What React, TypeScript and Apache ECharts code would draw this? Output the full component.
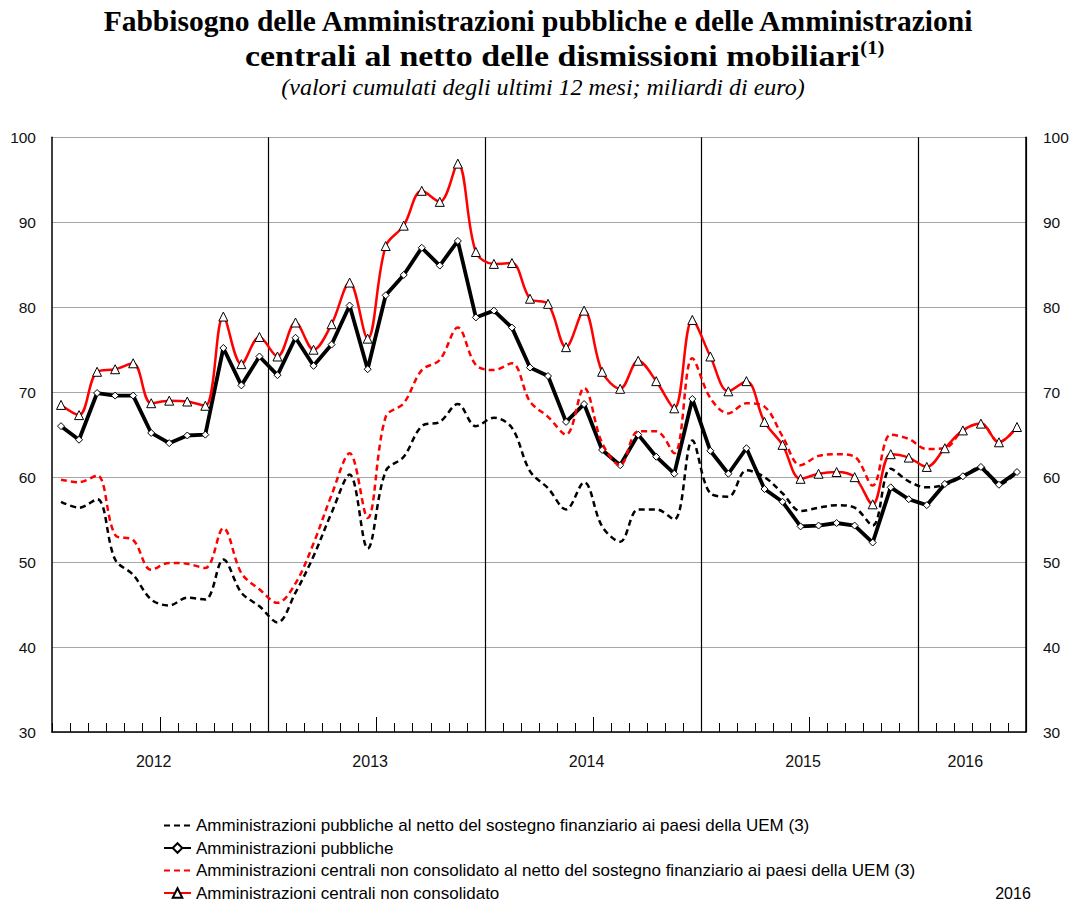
import React, { useEffect, useRef } from "react";
import * as echarts from "echarts";

const years = [2012, 2013, 2014, 2015, 2016];
const monthsPerYear = [12, 12, 12, 12, 6];
const months: string[] = [];
years.forEach((y, k) => {
  for (let m = 1; m <= monthsPerYear[k]; m++) months.push(`${y}-${m < 10 ? "0" + m : m}`);
});

const yTicks = { min: 30, max: 100, interval: 10 };

const seriesNames = [
  "Amministrazioni pubbliche al netto del sostegno finanziario ai paesi della UEM (3)",
  "Amministrazioni pubbliche",
  "Amministrazioni centrali non consolidato al netto del sostegno finanziario ai paesi della UEM (3)",
  "Amministrazioni centrali non consolidato",
];

const apNetto = [
  57.1, 56.4, 57.4, 50.3, 48.5, 45.6, 44.9, 45.8, 45.6, 50.3, 46.4, 44.8,
  42.9, 46.4, 50.7, 55.8, 60.3, 51.6, 60.7, 62.4, 66.0, 66.5, 68.6, 66.0,
  67.0, 65.8, 60.7, 58.7, 56.2, 59.4, 54.2, 52.4, 56.2, 56.2, 55.0, 64.3,
  58.1, 57.7, 60.8, 60.0, 58.1, 56.0, 56.4, 56.7, 56.4, 54.3, 61.0, 59.5,
  58.8, 59.1, 60.1, 61.2, 59.1, 60.6,
];
const ap = [
  66.0, 64.4, 69.9, 69.6, 69.6, 65.2, 64.0, 64.9, 65.0, 75.2, 70.8, 74.2,
  72.0, 76.4, 73.1, 75.6, 80.2, 72.7, 81.4, 83.8, 87.0, 84.9, 87.8, 78.8,
  79.6, 77.6, 72.9, 71.9, 66.5, 68.6, 63.2, 61.4, 65.0, 62.4, 60.4, 69.2,
  63.1, 60.4, 63.4, 58.6, 57.1, 54.2, 54.3, 54.6, 54.3, 52.3, 58.8, 57.4,
  56.7, 59.2, 60.1, 61.2, 59.1, 60.6,
];
const acNetto = [
  59.7, 59.4, 60.2, 53.2, 52.6, 49.1, 49.9, 49.8, 49.3, 54.0, 48.7, 46.8,
  45.2, 47.5, 52.2, 57.9, 62.8, 55.2, 67.1, 68.7, 72.6, 73.8, 77.6, 73.2,
  72.6, 73.4, 68.9, 67.1, 65.0, 70.5, 64.0, 61.4, 65.4, 65.4, 62.8, 74.0,
  69.3, 67.5, 68.7, 68.3, 64.8, 61.4, 62.5, 62.7, 62.4, 59.0, 65.0, 64.5,
  63.3, 63.4, 65.5, 66.3, 64.1, 65.9,
];
const ac = [
  68.5, 67.3, 72.4, 72.7, 73.4, 68.7, 69.0, 68.9, 68.4, 78.9, 73.3, 76.5,
  74.2, 78.2, 75.0, 78.0, 82.9, 76.3, 87.2, 89.6, 93.7, 92.4, 96.9, 86.5,
  85.1, 85.2, 81.0, 80.4, 75.3, 79.6, 72.4, 70.4, 73.7, 71.3, 68.1, 78.5,
  74.2, 70.1, 71.3, 66.5, 63.8, 59.8, 60.4, 60.6, 60.0, 56.8, 62.7, 62.3,
  61.2, 63.4, 65.5, 66.3, 64.1, 65.9,
];

const SANS = '"Liberation Sans", Arial, sans-serif';
const SERIF = '"Liberation Serif", "Times New Roman", serif';

export default function App() {
  const ref = useRef<HTMLDivElement>(null);
  useEffect(() => {
    if (!ref.current) return;
    const chart = echarts.init(ref.current, null, { renderer: "svg" });
    const yearLabelIdx: Record<number, string> = {};
    years.forEach((y, k) => {
      const start = k * 12;
      yearLabelIdx[k < 4 ? start + 5 : start + 2] = String(y);
    });
    const option: any = {
      animation: false,
      backgroundColor: "#fff",
      graphic: [
        {
          type: "text",
          x: 538,
          y: 21,
          style: {
            text: "Fabbisogno delle Amministrazioni pubbliche e delle Amministrazioni",
            font: `bold 29.5px ${SERIF}`,
            fill: "#000",
            align: "center",
            verticalAlign: "middle",
          },
        },
        {
          type: "text",
          x: 245,
          y: 55,
          scaleX: 1.15,
          style: {
            text: "{m|centrali al netto delle dismissioni mobiliari}{s|(1)}",
            fill: "#000",
            align: "left",
            verticalAlign: "middle",
            rich: {
              m: { font: `bold 29.5px ${SERIF}`, lineHeight: 32, verticalAlign: "bottom" },
              s: { font: `bold 18px ${SERIF}`, lineHeight: 32, verticalAlign: "top" },
            },
          },
        },
        {
          type: "text",
          x: 543,
          y: 87,
          style: {
            text: "(valori cumulati degli ultimi 12 mesi; miliardi di euro)",
            font: `italic 24px ${SERIF}`,
            fill: "#000",
            align: "center",
            verticalAlign: "middle",
          },
        },
        {
          type: "text",
          x: 1013,
          y: 893,
          style: {
            text: "2016",
            font: `16px ${SANS}`,
            fill: "#000",
            align: "center",
            verticalAlign: "middle",
          },
        },
      ],
      legend: {
        orient: "vertical",
        left: 163,
        top: 817,
        height: 100,
        padding: 0,
        itemGap: 5.5,
        itemWidth: 27,
        itemHeight: 12,
        selectedMode: false,
        textStyle: { fontFamily: SANS, fontSize: 17, color: "#000" },
        data: [
          { name: seriesNames[0], itemStyle: { opacity: 0 } },
          { name: seriesNames[1] },
          { name: seriesNames[2], itemStyle: { opacity: 0 } },
          { name: seriesNames[3] },
        ],
      },
      grid: { left: 52, right: 48, top: 137.3, bottom: 171 },
      xAxis: [
        {
          type: "category",
          data: months,
          boundaryGap: true,
          axisLine: { show: true, lineStyle: { color: "#000", width: 1.5 } },
          axisTick: { show: true, inside: true, length: 9, interval: 0, lineStyle: { color: "#000", width: 1 } },
          axisLabel: {
            interval: 0,
            margin: 21,
            fontFamily: SANS,
            fontSize: 16,
            color: "#111",
            formatter: (_v: string, i: number) => (yearLabelIdx[i] ? `{y|${yearLabelIdx[i]}}` : ""),
            rich: { y: { fontFamily: SANS, fontSize: 16, color: "#111", padding: [0, 0, 0, 5] } },
          },
          splitLine: {
            show: true,
            interval: (i: number) => i > 0 && i % 12 === 0,
            lineStyle: { color: "#000", width: 1.2 },
          },
        },
        {
          type: "category",
          data: months,
          position: "bottom",
          boundaryGap: true,
          axisLine: { show: false },
          axisTick: {
            show: true,
            inside: true,
            length: 15,
            interval: (i: number) => i % 12 === 6,
            lineStyle: { color: "#000", width: 1 },
          },
          axisLabel: { show: false },
          splitLine: { show: false },
        },
      ],
      yAxis: [
        {
          type: "value",
          min: yTicks.min,
          max: yTicks.max,
          interval: yTicks.interval,
          position: "left",
          axisLine: { show: true, lineStyle: { color: "#000", width: 1.5 } },
          axisTick: { show: false },
          axisLabel: { margin: 16, fontFamily: SANS, fontSize: 15.5, color: "#111" },
          splitLine: { show: true, lineStyle: { color: "#a6a6a6", width: 1.2 } },
        },
        {
          type: "value",
          min: yTicks.min,
          max: yTicks.max,
          interval: yTicks.interval,
          position: "right",
          axisLine: { show: true, lineStyle: { color: "#000", width: 1.5 } },
          axisTick: { show: false },
          axisLabel: { margin: 17, fontFamily: SANS, fontSize: 15.5, color: "#111" },
          splitLine: { show: false },
        },
      ],
      series: [
        {
          name: seriesNames[0],
          type: "line",
          data: apNetto,
          smooth: 0.35,
          symbol: "none",
          lineStyle: { color: "#000", width: 2.5, type: [6, 4] },
          itemStyle: { color: "#000" },
          z: 2,
        },
        {
          name: seriesNames[1],
          type: "line",
          data: ap,
          smooth: false,
          symbol: "diamond",
          symbolSize: 7,
          lineStyle: { color: "#000", width: 3.8 },
          itemStyle: { color: "#fff", borderColor: "#000", borderWidth: 1 },
          z: 3,
        },
        {
          name: seriesNames[2],
          type: "line",
          data: acNetto,
          smooth: 0.35,
          symbol: "none",
          lineStyle: { color: "#ff0000", width: 2.5, type: [6, 4] },
          itemStyle: { color: "#ff0000" },
          z: 4,
        },
        {
          name: seriesNames[3],
          type: "line",
          data: ac,
          smooth: 0.35,
          symbol: "triangle",
          symbolSize: 9,
          lineStyle: { color: "#ff0000", width: 2.5 },
          itemStyle: { color: "#fff", borderColor: "#000", borderWidth: 1 },
          z: 5,
        },
      ],
    };
    chart.setOption(option);
    return () => chart.dispose();
  }, []);
  return (
    <div
      ref={ref}
      style={{ position: "fixed", left: 0, top: 0, width: 1074, height: 903, background: "#fff" }}
    />
  );
}
